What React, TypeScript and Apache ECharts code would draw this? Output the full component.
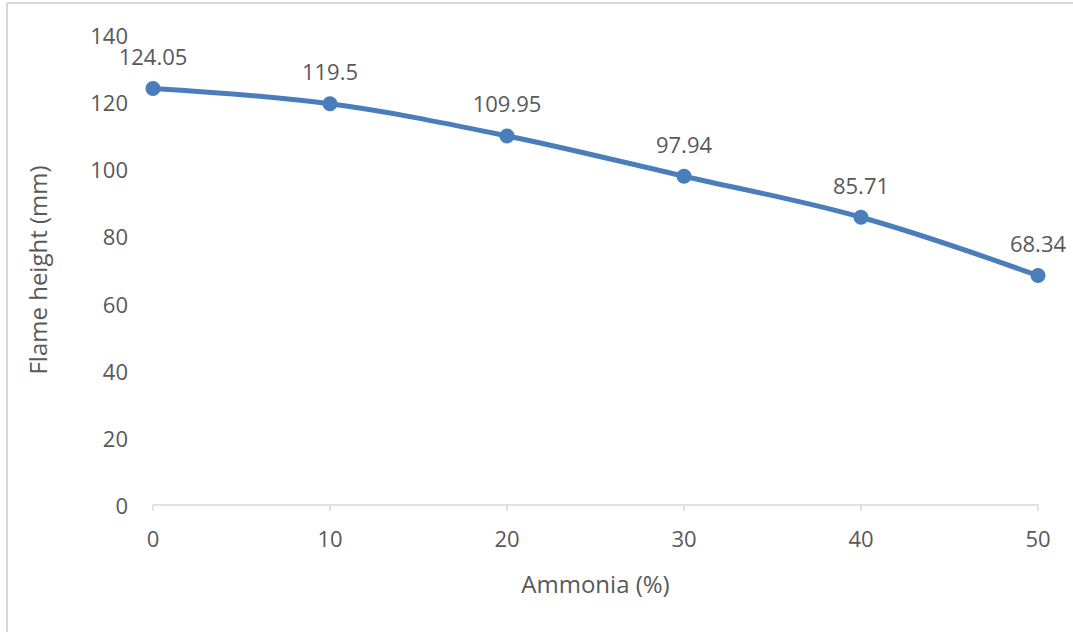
import React, { useEffect, useRef } from "react";
import * as echarts from "echarts";

const ammonia = [0, 10, 20, 30, 40, 50];
const flameHeight = [124.05, 119.5, 109.95, 97.94, 85.71, 68.34];
const xTitle = "Ammonia (%)";
const yTitle = "Flame height (mm)";

export default function App() {
  const ref = useRef<HTMLDivElement>(null);
  useEffect(() => {
    if (!ref.current) return;
    const chart = echarts.init(ref.current, undefined, { renderer: "svg" });
    const font = "Open Sans";
    const textColor = "#595959";
    chart.setOption({
      animation: false,
      backgroundColor: "#ffffff",
      textStyle: { fontFamily: font },
      graphic: [
        { type: "line", shape: { x1: 7, y1: 3, x2: 1073, y2: 3 }, style: { stroke: "#d9d9d9", lineWidth: 2 } },
        { type: "line", shape: { x1: 7, y1: 3, x2: 7, y2: 632 }, style: { stroke: "#d9d9d9", lineWidth: 2 } },
      ],
      grid: { left: 153, right: 35, top: 35, bottom: 127 },
      xAxis: {
        type: "value",
        min: 0,
        max: 50,
        interval: 10,
        name: xTitle,
        nameLocation: "middle",
        nameGap: 66,
        nameTextStyle: { fontFamily: font, fontSize: 24, color: textColor },
        axisLine: { show: true, lineStyle: { color: "#d9d9d9", width: 1.5 } },
        axisTick: { show: true, length: 6, lineStyle: { color: "#d9d9d9", width: 1.5 } },
        axisLabel: { fontFamily: font, fontSize: 22, color: textColor, margin: 22 },
        splitLine: { show: false },
      },
      yAxis: {
        type: "value",
        min: 0,
        max: 140,
        interval: 20,
        name: yTitle,
        nameLocation: "middle",
        nameGap: 104,
        nameTextStyle: { fontFamily: font, fontSize: 24, color: textColor },
        axisLine: { show: false },
        axisTick: { show: false },
        axisLabel: { fontFamily: font, fontSize: 22, color: textColor, margin: 25 },
        splitLine: { show: false },
      },
      series: [
        {
          type: "line",
          smooth: 0.35,
          data: ammonia.map((x, i) => [x, flameHeight[i]]),
          symbol: "circle",
          symbolSize: 15,
          itemStyle: { color: "#4a7ebb" },
          lineStyle: { color: "#4a7ebb", width: 5 },
          label: {
            show: true,
            position: "top",
            distance: 14,
            fontFamily: font,
            fontSize: 22,
            color: textColor,
            formatter: (p: any) => String(p.value[1]),
          },
        },
      ],
    });
    return () => chart.dispose();
  }, []);
  return <div ref={ref} style={{ width: 1073, height: 632, position: "absolute", left: 0, top: 0 }} />;
}
